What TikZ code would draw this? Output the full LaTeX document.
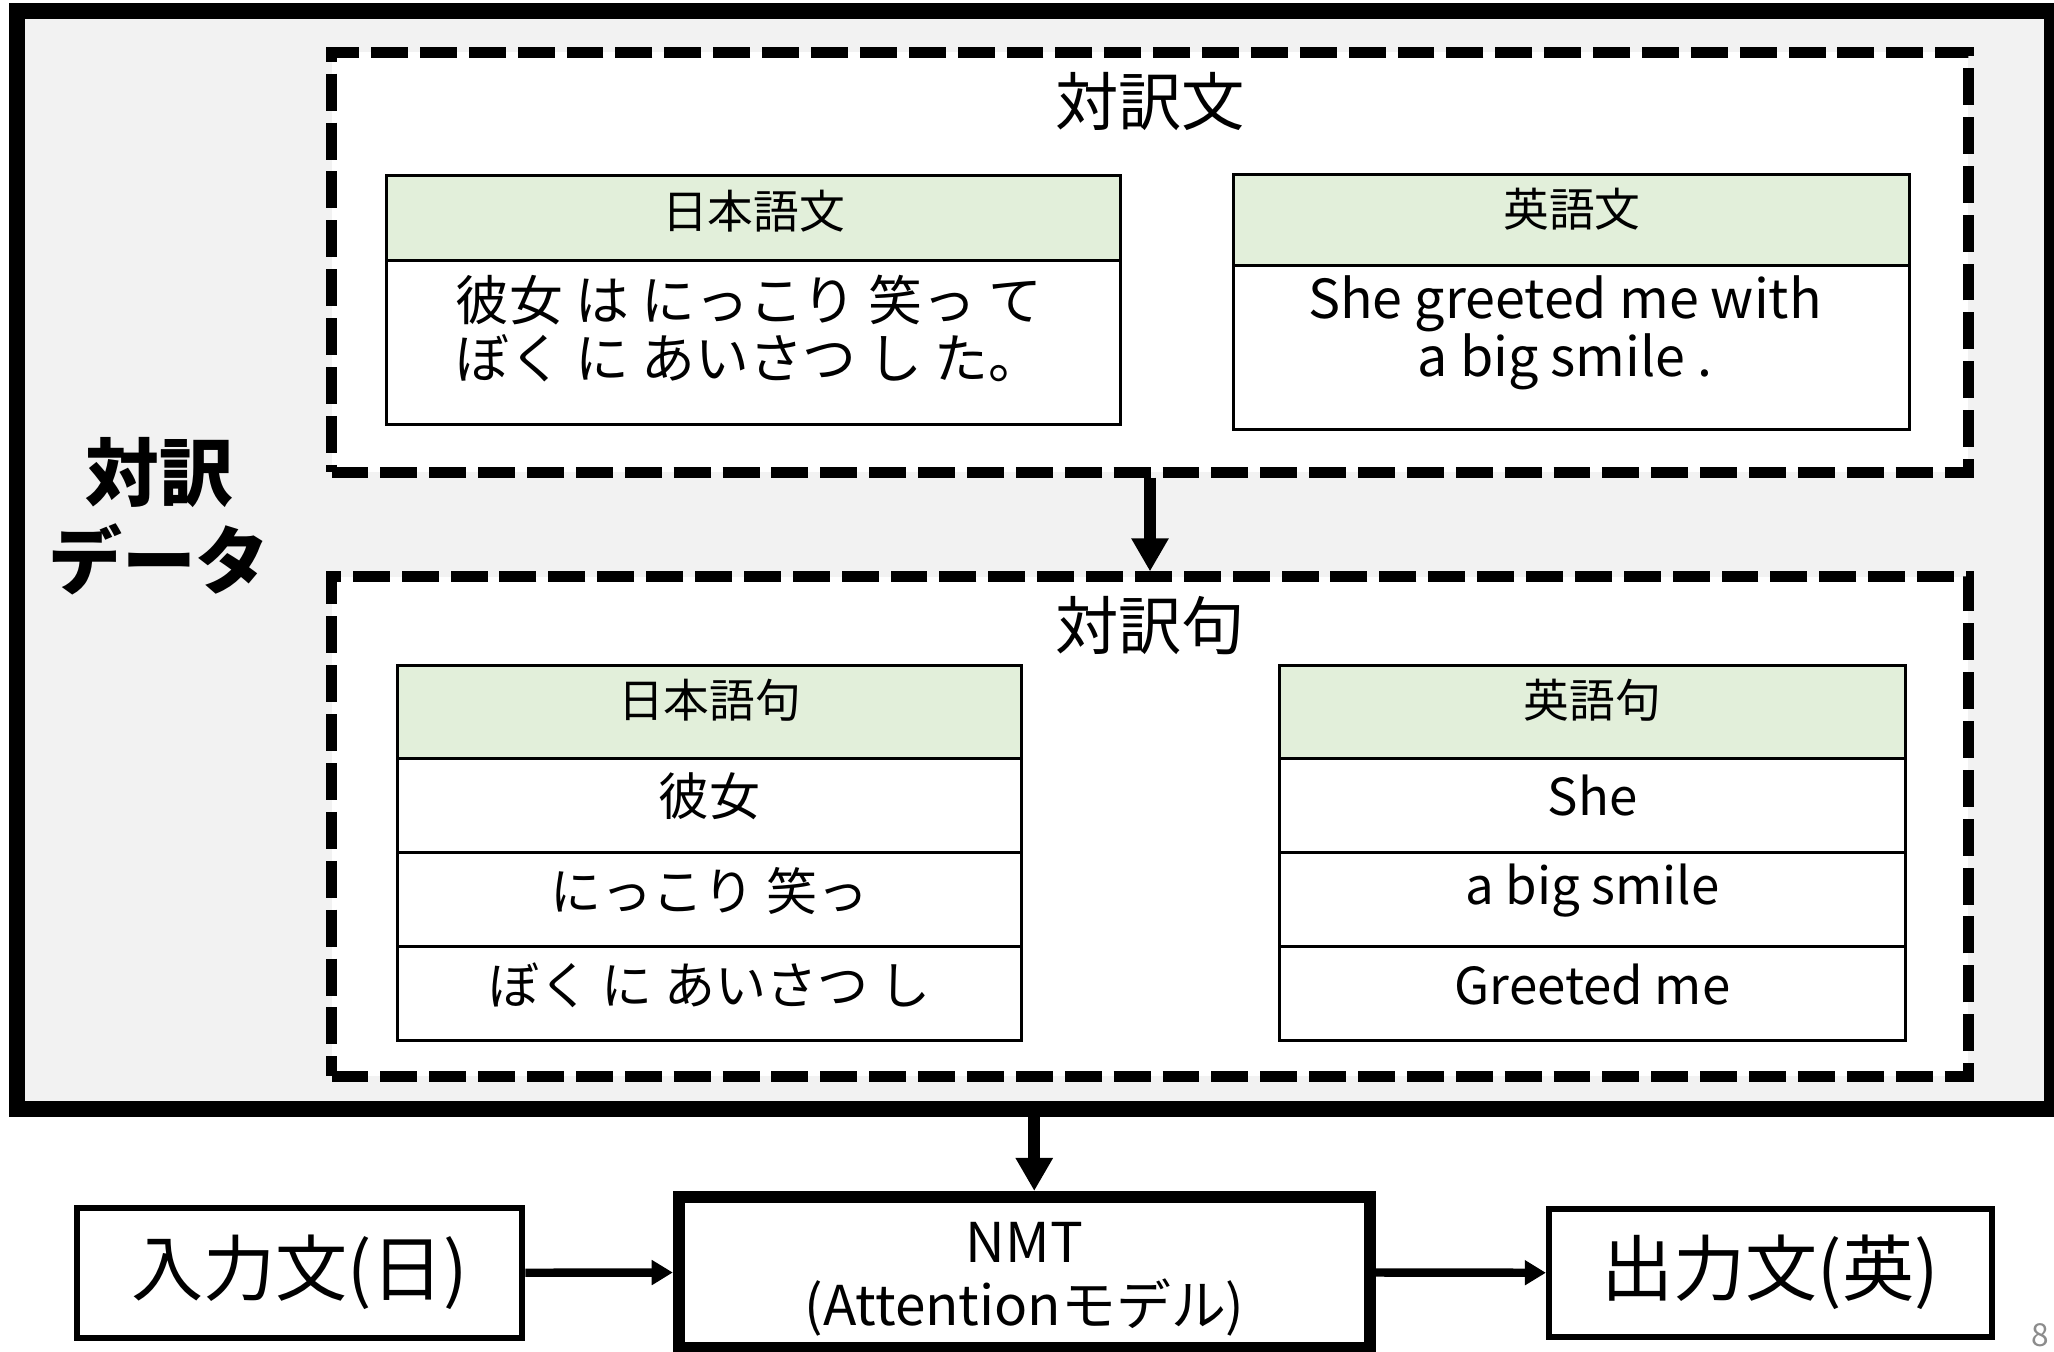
\documentclass[tikz,border=0pt]{standalone}
\usepackage{fontspec}
\setmainfont{Noto Sans CJK JP}
\usetikzlibrary{arrows.meta}
\definecolor{bggray}{HTML}{F2F2F2}
\definecolor{headgreen}{HTML}{E2EFDA}
\definecolor{pagegray}{HTML}{8C8C8C}
\begin{document}
\begin{tikzpicture}[x=0.01cm, y=-0.01cm,
  outerbox/.style={draw, line width=4.55pt, fill=bggray, inner sep=0pt},
  dashbox/.style={draw, fill=white, line width=3.1pt, dash pattern=on 10.5pt off 3.4pt, inner sep=0pt},
  headcell/.style={draw, line width=0.85pt, fill=headgreen, inner sep=0pt},
  bodycell/.style={draw, line width=0.85pt, fill=white, inner sep=0pt},
  flowbox/.style={draw, line width=1.7pt, fill=white, inner sep=0pt, align=center},
  nmtbox/.style={draw, line width=3.4pt, fill=white, inner sep=0pt, align=center},
  titletext/.style={inner sep=0pt, font=\fontsize{18pt}{21pt}\selectfont},
  headtext/.style={inner sep=0pt, font=\fontsize{13pt}{15pt}\selectfont},
  sentext/.style={inner sep=0pt, align=center, font=\fontsize{15.3pt}{16.5pt}\selectfont},
  phrasetext/.style={inner sep=0pt, font=\fontsize{14.5pt}{17pt}\selectfont},
  flowtext/.style={font=\fontsize{20.5pt}{24pt}\selectfont},
  bigarrow/.style={line width=3.4pt, -{Triangle[length=9.4pt,width=10pt]}},
  smallarrow/.style={line width=2.4pt, -{Triangle[length=6pt,width=6.8pt]}},
]
\useasboundingbox (0,0) rectangle (2054,1351);

% outer data box
\node[outerbox, minimum width=20.335cm, minimum height=10.98cm] (outer) at (1034.25,560) {};
\node[inner sep=0pt, align=center, font=\bfseries\fontsize{21pt}{25pt}\selectfont] (label) at (159,516) {対訳\\データ};

% upper dashed box: sentence pairs
\node[dashbox, minimum width=16.36cm, minimum height=4.195cm] (upper) at (1150,262.25) {};
\node[titletext] (uppertitle) at (1150,102) {対訳文};

\node[headcell, minimum width=7.33cm, minimum height=0.85cm] (jsh) at (753.5,218) {};
\node[bodycell, minimum width=7.33cm, minimum height=1.64cm] (jsb) at (753.5,342.5) {};
\node[headtext] (jsht) at (753.5,211) {日本語文};
\node[sentext] (jsbt) at (749,328.5) {彼女 は にっこり 笑っ て\\ぼく に あいさつ し た。};

\node[headcell, minimum width=6.75cm, minimum height=0.91cm] (esh) at (1571.5,220.5) {};
\node[bodycell, minimum width=6.75cm, minimum height=1.635cm] (esb) at (1571.5,347.75) {};
\node[headtext] (esht) at (1572,209) {英語文};
\node[sentext] (esbt) at (1565,333) {She greeted me with\\a big smile .};

% lower dashed box: phrase pairs
\node[dashbox, minimum width=16.36cm, minimum height=4.99cm] (lower) at (1150,826.5) {};
\node[titletext] (lowertitle) at (1150,626) {対訳句};

\node[headcell, minimum width=6.23cm, minimum height=0.93cm] (jph) at (709.5,712.5) {};
\node[bodycell, minimum width=6.23cm, minimum height=0.94cm] (jp1) at (709.5,806) {};
\node[bodycell, minimum width=6.23cm, minimum height=0.935cm] (jp2) at (709.5,899.75) {};
\node[bodycell, minimum width=6.23cm, minimum height=0.94cm] (jp3) at (709.5,993.5) {};
\node[headtext] (jpht) at (709.5,700) {日本語句};
\node[phrasetext] (jp1t) at (709.5,796) {彼女};
\node[phrasetext] (jp2t) at (709.5,891) {にっこり 笑っ};
\node[phrasetext] (jp3t) at (709.5,985) {ぼく に あいさつ し};

\node[headcell, minimum width=6.25cm, minimum height=0.93cm] (eph) at (1592.5,712.5) {};
\node[bodycell, minimum width=6.25cm, minimum height=0.94cm] (ep1) at (1592.5,806) {};
\node[bodycell, minimum width=6.25cm, minimum height=0.935cm] (ep2) at (1592.5,899.75) {};
\node[bodycell, minimum width=6.25cm, minimum height=0.94cm] (ep3) at (1592.5,993.5) {};
\node[headtext] (epht) at (1592.5,700) {英語句};
\node[phrasetext] (ep1t) at (1592.5,796) {She};
\node[phrasetext] (ep2t) at (1592.5,891) {a big smile};
\node[phrasetext] (ep3t) at (1592.5,985) {Greeted me};

\draw[bigarrow] (upper.south) -- (lower.north);

% bottom flow
\node[flowbox, flowtext, minimum width=4.45cm, minimum height=1.295cm] (inbox) at (299.75,1272.75) {入力文(日)};
\node[nmtbox, minimum width=6.91cm, minimum height=1.51cm] (nmt) at (1024.5,1272.5) {};
\node[inner sep=0pt, align=center, font=\fontsize{15.6pt}{18pt}\selectfont] (nmtt) at (1024.5,1279) {NMT\\(Attentionモデル)};
\node[flowbox, flowtext, minimum width=4.425cm, minimum height=1.275cm] (outbox) at (1770.25,1272.75) {出力文(英)};
\node[inner sep=0pt, text=pagegray, font=\fontsize{9pt}{10pt}\selectfont] (pagenum) at (2040,1335) {8};

\draw[bigarrow] (outer.south) -- (outer.south |- nmt.north);
\draw[smallarrow] (inbox.east) -- (nmt.west);
\draw[smallarrow] (nmt.east) -- (outbox.west);
\end{tikzpicture}
\end{document}
